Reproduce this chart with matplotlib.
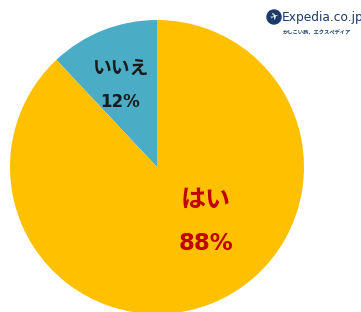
import matplotlib.pyplot as plt
from matplotlib.patches import Circle

plt.rcParams['font.family'] = ['Noto Sans CJK JP', 'DejaVu Sans']

labels = ["いいえ", "はい"]
values = [12, 88]
colors = ["#4BACC6", "#FFC000"]
label_colors = ["#1a1a1a", "#C00000"]

fig = plt.figure(figsize=(3.61, 3.12), dpi=100)
ax = fig.add_axes([0, 0, 1, 1])

# pie in pixel coords (y up)
ax.pie(values, colors=colors, startangle=90, counterclock=True,
       center=(157, 145), radius=147, frame=True,
       wedgeprops=dict(linewidth=0))
ax.set_xlim(0, 361)
ax.set_ylim(0, 312)
ax.set_aspect("equal")
ax.axis("off")

# labels
ax.text(120, 312 - 68, labels[0], ha="center", va="center",
        fontsize=13.5, fontweight="bold", color=label_colors[0])
ax.text(120, 312 - 102, f"{values[0]}%", ha="center", va="center",
        fontsize=12, fontweight="bold", color=label_colors[0],
        family=["DejaVu Sans"])
ax.text(206, 312 - 200, labels[1], ha="center", va="center",
        fontsize=18, fontweight="bold", color=label_colors[1])
ax.text(206, 312 - 243, f"{values[1]}%", ha="center", va="center",
        fontsize=16.5, fontweight="bold", color=label_colors[1],
        family=["DejaVu Sans"])

# logo
ax.add_patch(Circle((274, 312 - 17), 7, color="#1B3A6B"))
ax.text(274, 312 - 17, "✈", ha="center", va="center", fontsize=7,
        color="white", family=["DejaVu Sans"], rotation=20)
ax.text(282, 312 - 17, "Expedia.co.jp", ha="left", va="center",
        fontsize=8.8, color="#1B3A6B", family=["DejaVu Sans"])
ax.text(283, 312 - 33, "かしこい旅、エクスペディア", ha="left", va="center",
        fontsize=3.8, fontweight="bold", color="#1B3A6B")

fig.savefig("out.png", dpi=100)
